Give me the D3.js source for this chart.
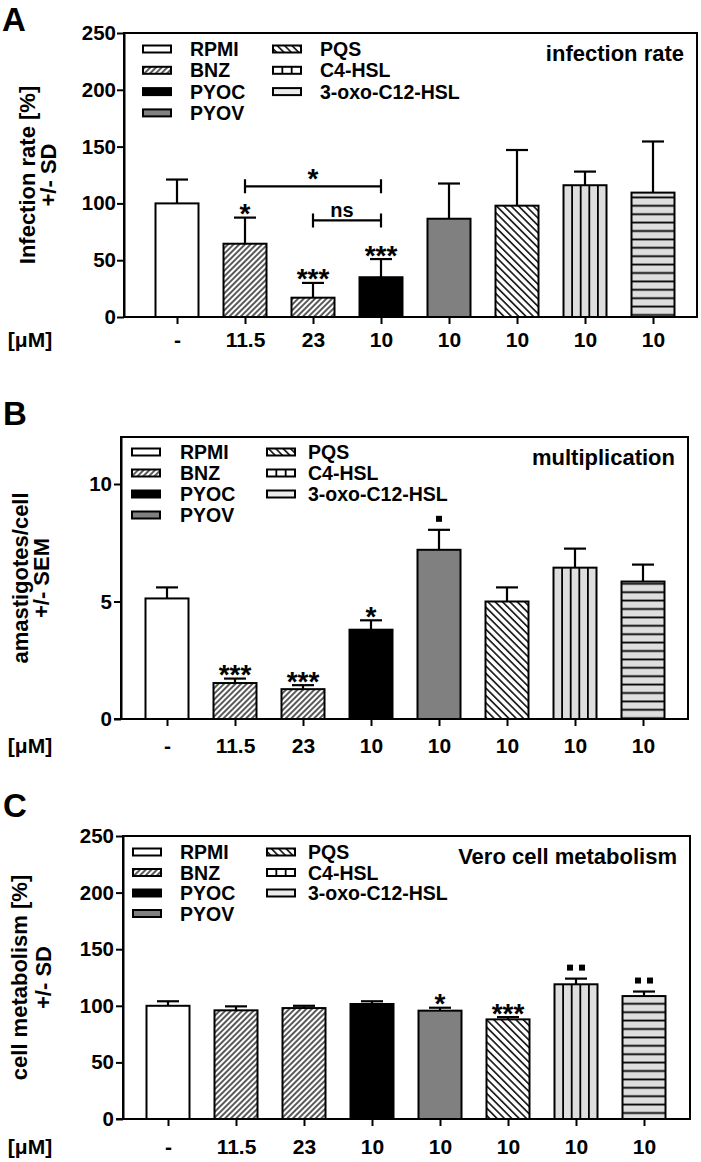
<!DOCTYPE html>
<html><head><meta charset="utf-8">
<script src="https://cdn.jsdelivr.net/npm/d3@7"></script>
<style>
body{margin:0;background:#fff}
text{font-family:"Liberation Sans",Arial,Helvetica,sans-serif;font-weight:bold;fill:#000}
</style>
</head><body>
<svg id="chart" width="701" height="1162"></svg>
<script>
// ---------- data ----------
const categories = ["RPMI","BNZ","BNZ","PYOC","PYOV","PQS","C4-HSL","3-oxo-C12-HSL"];
const concentrations = ["-","11.5","23","10","10","10","10","10"];
const legendCol1 = ["RPMI","BNZ","PYOC","PYOV"];
const legendCol2 = ["PQS","C4-HSL","3-oxo-C12-HSL"];

const infectionMean = [100, 64.5, 17, 35, 86.5, 98, 116, 109.5];
const infectionSD   = [21, 23, 13, 16, 31, 49, 12, 45];
const infectionSig  = ["", "*", "***", "***", "", "", "", ""];
const infectionTicks = [0, 50, 100, 150, 200, 250];
const infectionBrackets = [
  {from: 1, to: 3, level: 115, label: "*"},
  {from: 2, to: 3, level: 85, label: "ns"}
];

const multMean = [5.13, 1.53, 1.27, 3.8, 7.2, 5.0, 6.44, 5.85];
const multSEM  = [0.47, 0.19, 0.17, 0.4, 0.85, 0.6, 0.81, 0.72];
const multSig  = ["", "***", "***", "*", "▪", "", "", ""];
const multTicks = [0, 5, 10];

const metabMean = [100, 96, 98, 101.6, 95.7, 88, 119, 108.6];
const metabSD   = [4, 3.5, 2, 2.4, 2.6, 2, 5, 4];
const metabSig  = ["", "", "", "", "*", "***", "▪▪", "▪▪"];
const metabTicks = [0, 50, 100, 150, 200, 250];

// ---------- setup ----------
const svg = d3.select("#chart");
const defs = svg.append("defs");
function hatch(id, angle, spacing, sw){
  const p = defs.append("pattern").attr("id", id).attr("patternUnits","userSpaceOnUse")
    .attr("width", spacing).attr("height", spacing).attr("patternTransform", `rotate(${angle})`);
  p.append("rect").attr("width", spacing).attr("height", spacing).attr("fill", "#fff");
  p.append("line").attr("x1", spacing/2).attr("x2", spacing/2).attr("y1", -1).attr("y2", spacing+1)
    .attr("stroke", "#000").attr("stroke-width", sw);
}
hatch("hatchF", 45, 4, 1.3);
hatch("hatchB", -45, 5.2, 1.5);
const hz = defs.append("pattern").attr("id","hatchH").attr("patternUnits","userSpaceOnUse")
  .attr("width", 10).attr("height", 8.4);
hz.append("rect").attr("width", 10).attr("height", 8.4).attr("fill", "#dedede");
hz.append("line").attr("x1", 0).attr("x2", 10).attr("y1", 4.2).attr("y2", 4.2)
  .attr("stroke", "#000").attr("stroke-width", 1.8);

const fills = {
  "RPMI": "#fff", "BNZ": "url(#hatchF)", "PYOC": "#000", "PYOV": "#808080",
  "PQS": "url(#hatchB)", "C4-HSL": "#dedede", "3-oxo-C12-HSL": "url(#hatchH)"
};
const legendFills = Object.assign({}, fills, {"3-oxo-C12-HSL": "#ececec", "C4-HSL": "#fff"});

function drawSwatchOrBar(g, name, x, y, w, h, isLegend){
  const f = isLegend ? legendFills[name] : fills[name];
  g.append("rect").attr("x", x).attr("y", y).attr("width", w).attr("height", h)
    .attr("fill", f).attr("stroke", "#000").attr("stroke-width", 2);
  if (name === "C4-HSL") {
    const n = isLegend ? 3 : 5;
    for (let k = 1; k < n; k++) {
      g.append("line").attr("x1", x + k*w/n).attr("x2", x + k*w/n).attr("y1", y).attr("y2", y + h)
        .attr("stroke", "#000").attr("stroke-width", 1.8);
    }
  }
}

function drawPanel(cfg){
  const g = svg.append("g");
  const x = d3.scalePoint().domain(d3.range(categories.length)).range([cfg.cx0, cfg.cx0 + 68*(categories.length-1)]);
  const y = d3.scaleLinear().domain([0, cfg.max]).range([cfg.bottom, cfg.top]);

  // panel letter
  g.append("text").attr("x", cfg.letterX).attr("y", cfg.letterY).style("font-size", cfg.letterSize + "px").text(cfg.letter);

  // frame
  g.append("rect").attr("x", cfg.left).attr("y", cfg.top).attr("width", cfg.right - cfg.left)
    .attr("height", cfg.bottom - cfg.top).attr("fill", "none").attr("stroke", "#000").attr("stroke-width", 2);

  // y axis
  const ya = g.append("g").attr("transform", `translate(${cfg.left},0)`)
    .call(d3.axisLeft(y).tickValues(cfg.ticks).tickSize(7).tickSizeOuter(0).tickPadding(cfg.yPad));
  ya.selectAll("path,line").attr("stroke", "#000").attr("stroke-width", 2);
  ya.selectAll("text").style("font-size", "20.5px").style("font-family", '"Liberation Sans",Arial,sans-serif').style("font-weight","bold");

  // x axis
  const xa = g.append("g").attr("transform", `translate(0,${cfg.bottom})`)
    .call(d3.axisBottom(x).tickSize(7).tickSizeOuter(0).tickPadding(cfg.xPad).tickFormat(i => concentrations[i]));
  xa.select("path").attr("d", `M${cfg.xAxisStart},0H${cfg.right}`).attr("stroke", "#000").attr("stroke-width", 2);
  xa.selectAll("line").attr("stroke", "#000").attr("stroke-width", 2);
  xa.selectAll("text").style("font-size", "21px").style("font-family", '"Liberation Sans",Arial,sans-serif').style("font-weight","bold");
  g.append("text").attr("x", 30).attr("y", cfg.bottom + cfg.xPad + 7 + 15).attr("text-anchor", "middle")
    .style("font-size", "21px").text("[μM]");

  // y title
  const cy = (cfg.top + cfg.bottom) / 2;
  cfg.yTitle.forEach((t, i) => {
    g.append("text").attr("transform", `translate(${cfg.yTitleX[i]},${cy}) rotate(-90)`)
      .attr("text-anchor", "middle").style("font-size", "22px").text(t);
  });

  // bars
  const bw = 43;
  cfg.mean.forEach((m, i) => {
    drawSwatchOrBar(g, categories[i], x(i) - bw/2, y(m), bw, cfg.bottom - y(m), false);
  });
  // error bars
  cfg.mean.forEach((m, i) => {
    const yt = y(m + cfg.err[i]);
    g.append("line").attr("x1", x(i)).attr("x2", x(i)).attr("y1", y(m)).attr("y2", yt)
      .attr("stroke", "#000").attr("stroke-width", 2.2);
    g.append("line").attr("x1", x(i) - 11).attr("x2", x(i) + 11).attr("y1", yt).attr("y2", yt)
      .attr("stroke", "#000").attr("stroke-width", 2.2);
  });
  // significance
  cfg.sig.forEach((s, i) => {
    if (!s) return;
    const yt = y(cfg.mean[i] + cfg.err[i]);
    if (s.includes("▪")) {
      const n = s.length, sz = 6, gap = 12;
      for (let k = 0; k < n; k++) {
        const cx = x(i) + (k - (n-1)/2) * gap;
        g.append("rect").attr("x", cx - sz/2).attr("y", yt - 11 - sz/2).attr("width", sz).attr("height", sz).attr("fill", "#000");
      }
    } else {
      g.append("text").attr("x", x(i)).attr("y", yt - 10 + 15.5).attr("text-anchor", "middle")
        .style("font-size", "28px").text(s);
    }
  });
  // brackets
  (cfg.brackets || []).forEach(b => {
    const yy = y(b.level), x1 = x(b.from), x2 = x(b.to);
    g.append("path").attr("d", `M${x1},${yy-7}V${yy+7}M${x1},${yy}H${x2}M${x2},${yy-7}V${yy+7}`)
      .attr("fill", "none").attr("stroke", "#000").attr("stroke-width", 2.2);
    if (b.label === "*") {
      g.append("text").attr("x", (x1+x2)/2).attr("y", yy - 14 + 15.5).attr("text-anchor", "middle")
        .style("font-size", "28px").text(b.label);
    } else {
      g.append("text").attr("x", (x1+x2)/2 - 5).attr("y", yy - 3).attr("text-anchor", "middle")
        .style("font-size", "20px").text(b.label);
    }
  });

  // legend
  const L = cfg.legend;
  legendCol1.forEach((name, i) => {
    const ry = L.y0 + i * L.step;
    drawSwatchOrBar(g, name, L.sx1, ry - 3.5, 28, 7, true);
    g.append("text").attr("x", L.tx1).attr("y", ry + 7).style("font-size", "19.5px").text(name);
  });
  legendCol2.forEach((name, i) => {
    const ry = L.y0 + i * L.step;
    drawSwatchOrBar(g, name, L.sx2, ry - 3.5, 28, 7, true);
    g.append("text").attr("x", L.tx2).attr("y", ry + 7).style("font-size", "19.5px").text(name);
  });

  // panel title
  g.append("text").attr("x", cfg.right - 13).attr("y", cfg.top + 28).attr("text-anchor", "end")
    .style("font-size", "22px").text(cfg.title);
}

drawPanel({
  letter: "A", letterX: 2, letterY: 31, letterSize: 33,
  left: 124, right: 697, top: 33, bottom: 317, cx0: 177, xAxisStart: 124, xPad: 8,
  max: 250, ticks: infectionTicks, yPad: 1,
  mean: infectionMean, err: infectionSD, sig: infectionSig, brackets: infectionBrackets,
  yTitle: ["Infection rate [%]", "+/- SD"], yTitleX: [35, 56],
  legend: {sx1: 143, tx1: 190, sx2: 273, tx2: 320, y0: 49, step: 21.3},
  title: "infection rate"
});
drawPanel({
  letter: "B", letterX: 3, letterY: 425, letterSize: 33,
  left: 121, right: 688, top: 437, bottom: 719, cx0: 167, xAxisStart: 114, xPad: 12,
  max: 12, ticks: multTicks, yPad: 2,
  mean: multMean, err: multSEM, sig: multSig,
  yTitle: ["amastigotes/cell", "+/- SEM"], yTitleX: [28, 49],
  legend: {sx1: 132, tx1: 180, sx2: 267, tx2: 308, y0: 452, step: 21},
  title: "multiplication"
});
drawPanel({
  letter: "C", letterX: 3, letterY: 817, letterSize: 33,
  left: 123, right: 690, top: 836, bottom: 1119, cx0: 168, xAxisStart: 116, xPad: 13,
  max: 250, ticks: metabTicks, yPad: 2,
  mean: metabMean, err: metabSD, sig: metabSig,
  yTitle: ["cell metabolism [%]", "+/- SD"], yTitleX: [27, 51],
  legend: {sx1: 133, tx1: 180, sx2: 267, tx2: 308, y0: 852, step: 20.5},
  title: "Vero cell metabolism"
});
</script>
</body></html>
